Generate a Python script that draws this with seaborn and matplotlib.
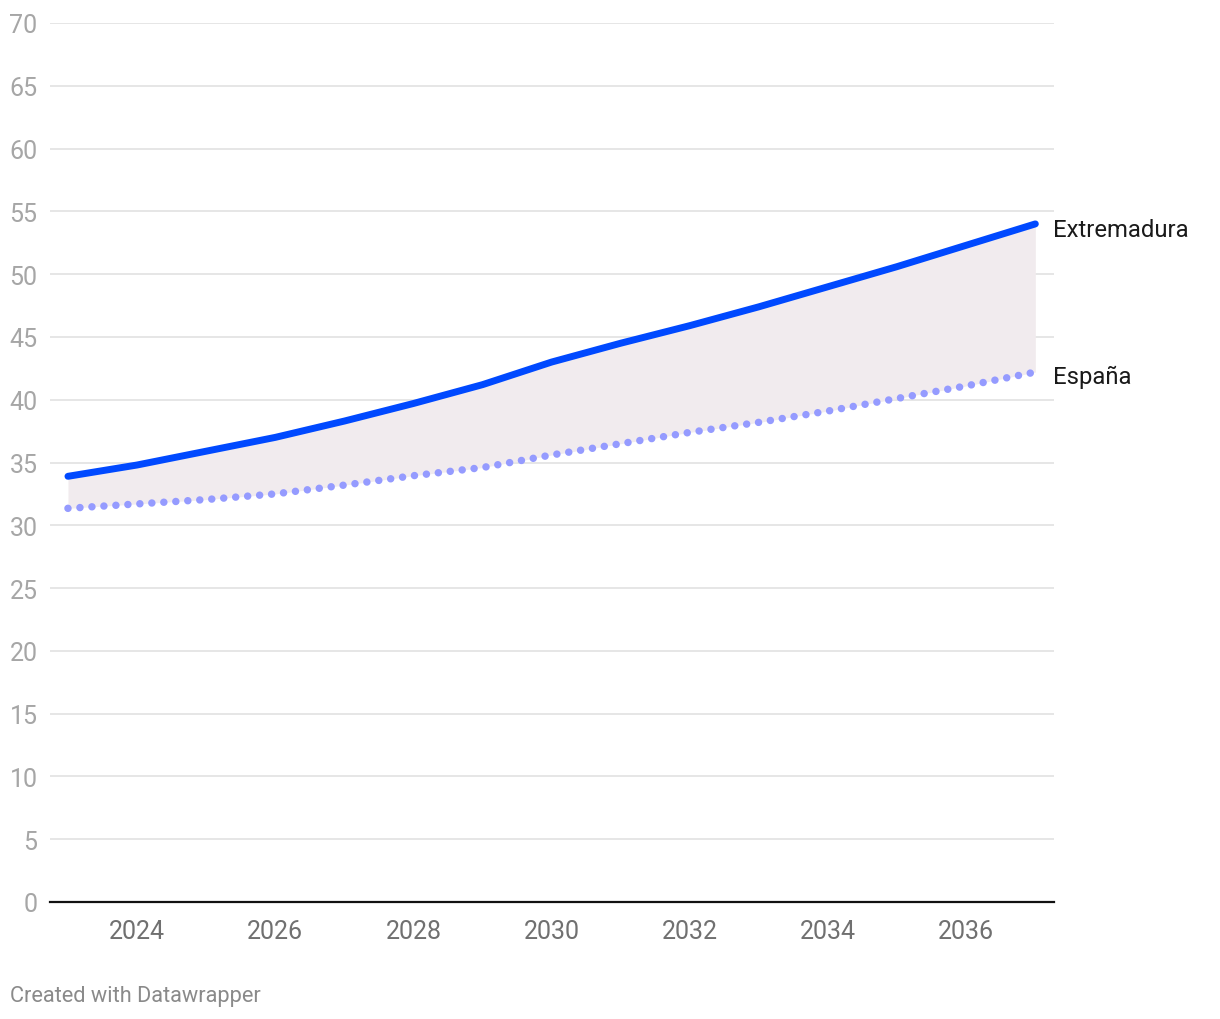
import numpy as np
import pandas as pd
import matplotlib.pyplot as plt
import seaborn as sns

years = list(range(2023, 2038))
extremadura = [33.9, 34.8, 35.9, 37.0, 38.3, 39.7, 41.2, 43.0, 44.5, 45.9, 47.4, 49.0, 50.6, 52.3, 54.0]
espana = [31.35, 31.7, 32.05, 32.5, 33.2, 33.95, 34.6, 35.6, 36.5, 37.4, 38.2, 39.1, 40.1, 41.1, 42.2]

df = pd.DataFrame({"year": years, "Extremadura": extremadura, "España": espana})

sns.set_style("white")
plt.rcParams['font.family'] = ['Roboto', 'DejaVu Sans']

fig = plt.figure(figsize=(12.2, 10.2), dpi=100)
ax = fig.add_axes([50 / 1220, 1 - 903 / 1020, 1004 / 1220, 879 / 1020])

# shaded gap between the two series
ax.fill_between(df["year"], df["España"], df["Extremadura"], color="#f1ebee", lw=0, zorder=1)

sns.lineplot(data=df, x="year", y="Extremadura", ax=ax, color="#0049ff", lw=5,
             solid_capstyle="round", zorder=3)
sns.lineplot(data=df, x="year", y="España", ax=ax, color="#959bff", lw=5.4,
             linestyle=(0, (0.001, 1.6)), dash_capstyle="round", zorder=2)

ax.set_xlim(2022.74, 2037.27)
ax.set_ylim(0, 70)
ax.set_yticks(range(0, 75, 5))
ax.set_xticks(range(2024, 2037, 2))
ax.grid(axis="y", color="#e2e2e2", lw=1.2, zorder=0)
ax.set_axisbelow(True)
for s in ["top", "right", "left"]:
    ax.spines[s].set_visible(False)
ax.spines["bottom"].set_color("#111111")
ax.spines["bottom"].set_linewidth(1.6)
ax.spines["bottom"].set_zorder(4)

ax.tick_params(axis="y", length=0, pad=9, labelsize=18, labelcolor="#a6a6a6")
ax.tick_params(axis="x", length=0, pad=12, labelsize=18, labelcolor="#707070")
ax.set_xlabel("")
ax.set_ylabel("")

# end labels
ax.annotate("Extremadura", xy=(years[-1], extremadura[-1]), xytext=(13, -4),
            textcoords="offset points", va="center", ha="left", fontsize=17.2, color="#1a1a1a")
ax.annotate("España", xy=(years[-1], espana[-1]), xytext=(13, -3),
            textcoords="offset points", va="center", ha="left", fontsize=17.2, color="#1a1a1a")

fig.text(10 / 1220, 1 - 997 / 1020, "Created with Datawrapper", fontsize=15.7,
         color="#8a8a8a", va="center", ha="left")

plt.savefig("out.png", dpi=100)
plt.close(fig)
